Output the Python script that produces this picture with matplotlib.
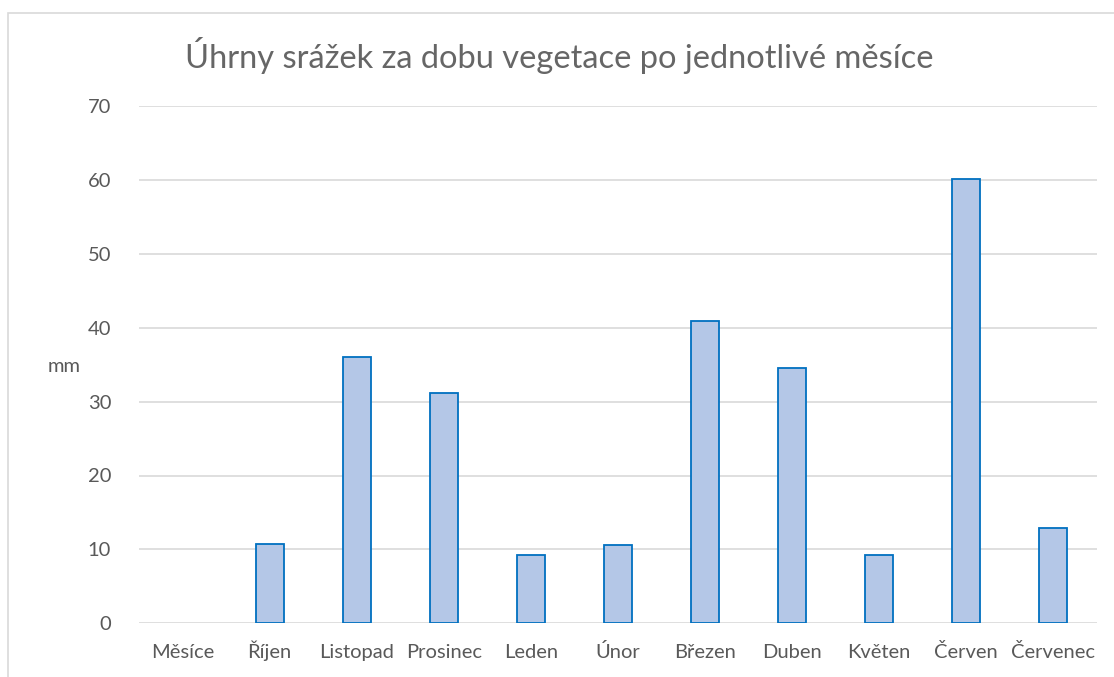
import matplotlib
matplotlib.use("Agg")
import matplotlib.pyplot as plt
from matplotlib.patches import Rectangle

plt.rcParams["font.family"] = ["Lato", "DejaVu Sans"]

TITLE = "Úhrny srážek za dobu vegetace po jednotlivé měsíce"
months = ["Měsíce", "Říjen", "Listopad", "Prosinec", "Leden", "Únor",
          "Březen", "Duben", "Květen", "Červen", "Červenec"]
rain_mm = [0, 10.7, 36.1, 31.2, 9.3, 10.6, 40.9, 34.5, 9.2, 60.1, 12.9]
yticks = [0, 10, 20, 30, 40, 50, 60, 70]

FILL, EDGE, GRID, TEXT = "#B4C7E7", "#0070C0", "#D9D9D9", "#595959"
W, H = 1114, 677

fig = plt.figure(figsize=(W / 100, H / 100), dpi=100)
fig.patches.append(Rectangle((8 / W, -0.1), 1.2, 1.1 - 13 / H,
                             transform=fig.transFigure, fill=False,
                             edgecolor=GRID, lw=1.2))

ax = fig.add_axes([139 / W, (H - 623.3) / H, (1096.7 - 139) / W,
                   (623.3 - 106) / H])
x = list(range(len(months)))
# a zero bar shows no outline in the original
edges = [EDGE if v > 0 else "none" for v in rain_mm]
ax.bar(x, rain_mm, width=0.32, color=FILL, edgecolor=edges, lw=1.3, zorder=3)

ax.set_xlim(-0.5, len(months) - 0.5)
ax.set_ylim(0, 70)
ax.set_yticks(yticks)
ax.set_xticks(x)
ax.set_xticklabels(months, va="baseline")
ax.grid(axis="y", color=GRID, lw=1.2, zorder=0)
for s in ax.spines.values():
    s.set_visible(False)
ax.tick_params(length=0, labelsize=14.5, labelcolor=TEXT)
ax.tick_params(axis="x", pad=25)
ax.tick_params(axis="y", pad=20)

fig.text(64 / W, (H - 366) / H, "mm", ha="center", va="center",
         fontsize=14.5, color=TEXT)
fig.text(559 / W, (H - 55) / H, TITLE, ha="center", va="center",
         fontsize=23.5, color="#666666")

fig.savefig("out.png", dpi=100, facecolor="white")
